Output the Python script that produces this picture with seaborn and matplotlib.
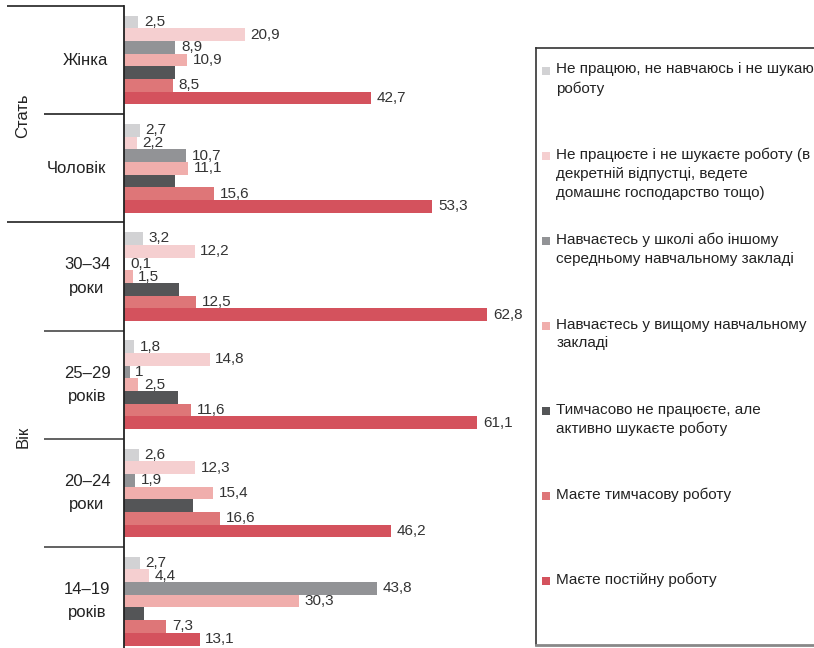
import matplotlib
matplotlib.use("Agg")
import matplotlib.pyplot as plt
import pandas as pd
import seaborn as sns
from matplotlib.patches import Rectangle
from matplotlib.transforms import blended_transform_factory

# Groups (top to bottom) and the employment status series
groups = ["Жінка", "Чоловік", "30–34\nроки", "25–29\nроків", "20–24\nроки", "14–19\nроків"]
series = [
    "Не працюю, не навчаюсь і не шукаю\nроботу",
    "Не працюєте і не шукаєте роботу (в\nдекретній відпустці, ведете\nдомашнє господарство тощо)",
    "Навчаєтесь у школі або іншому\nсередньому навчальному закладі",
    "Навчаєтесь у вищому навчальному\nзакладі",
    "Тимчасово не працюєте, але\nактивно шукаєте роботу",
    "Маєте тимчасову роботу",
    "Маєте постійну роботу",
]
not_working = [2.5, 2.7, 3.2, 1.8, 2.6, 2.7]
homemaker = [20.9, 2.2, 12.2, 14.8, 12.3, 4.4]
school = [8.9, 10.7, 0.1, 1.0, 1.9, 43.8]
university = [10.9, 11.1, 1.5, 2.5, 15.4, 30.3]
job_seeking = [8.8, 8.8, 9.5, 9.3, 11.9, 3.5]
temporary_job = [8.5, 15.6, 12.5, 11.6, 16.6, 7.3]
permanent_job = [42.7, 53.3, 62.8, 61.1, 46.2, 13.1]
colors = ["#d2d2d4", "#f5cfd0", "#929396", "#f0aeac", "#545557", "#de7678", "#d4525d"]
labelled = [True, True, True, True, False, True, True]

values = [not_working, homemaker, school, university, job_seeking, temporary_job, permanent_job]
rows = []
for s, vals in zip(series, values):
    for g, v in zip(groups, vals):
        rows.append({"group": g, "status": s, "value": v})
df = pd.DataFrame(rows)

sns.set_style("white")
plt.rcParams["font.family"] = ["Liberation Sans", "DejaVu Sans"]

W, H = 814, 648
fig = plt.figure(figsize=(W / 100, H / 100), dpi=100)
ax_left, ax_right = 124, 530
ax = fig.add_axes([ax_left / W, 0, (ax_right - ax_left) / W, 642 / H])

sns.barplot(data=df, y="group", x="value", hue="status", order=groups,
            hue_order=series, palette=dict(zip(series, colors)), orient="h",
            width=0.82, gap=0, saturation=1, legend=False, linewidth=0, ax=ax)

ax.set_xlim(0, (ax_right - ax_left) / 5.785)
ax.set_ylim(5.433, -0.5)
ax.set_xlabel("")
ax.set_ylabel("")
ax.set_xticks([])
ax.set_yticks([])
for side in ["top", "right", "bottom"]:
    ax.spines[side].set_visible(False)
ax.spines["left"].set_color("#222222")
ax.spines["left"].set_linewidth(1.3)

# value labels (the job-seeking series is shown without numbers)
for cont, show in zip(ax.containers, labelled):
    if not show:
        continue
    labs = [f"{r.get_width():g}".replace(".", ",") for r in cont]
    ax.bar_label(cont, labels=labs, padding=4, fontsize=11, color="#333333")

# row labels and separators on the left
axw = ax_right - ax_left
trans = blended_transform_factory(ax.transAxes, ax.transData)
label_x = [85, 76, 87, 87, 87, 87]
for i, (g, lx) in enumerate(zip(groups, label_x)):
    ax.text((lx - ax_left) / axw, i, g, transform=trans, ha="center", va="center",
            fontsize=12, color="#222222", linespacing=1.7)

def hline(y, x0_px, color="#333333"):
    ax.plot([(x0_px - ax_left) / axw, 0], [y, y], transform=trans, color=color,
            lw=1.3, clip_on=False, solid_capstyle="butt")

hline(-0.5, 7)
hline(0.5, 44)
hline(1.5, 7)
for y in [2.5, 3.5, 4.5]:
    hline(y, 44, "#555555")

fig.text(23 / W, 1 - 116 / H, "Стать", rotation=90, ha="center", va="center",
         fontsize=12, color="#222222")
fig.text(23 / W, 1 - 437 / H, "Вік", rotation=90, ha="center", va="center",
         fontsize=12, color="#222222")

# legend panel
lx0, ly0, lx1, ly1 = 535.7, 47.7, 830, 645
lax = fig.add_axes([lx0 / W, 1 - ly1 / H, (lx1 - lx0) / W, (ly1 - ly0) / H])
lw_px, lh_px = lx1 - lx0, ly1 - ly0
lax.set_xlim(0, lw_px)
lax.set_ylim(lh_px, 0)
lax.set_xticks([])
lax.set_yticks([])
lax.patch.set_alpha(0)
for side in ["left", "top"]:
    lax.spines[side].set_color("#333333")
    lax.spines[side].set_linewidth(1.2)
lax.spines["right"].set_visible(False)
lax.spines["bottom"].set_color("#888888")
lax.spines["bottom"].set_linewidth(2)

for k, (s, c) in enumerate(zip(series, colors)):
    yc = 71 - ly0 + 85 * k
    lax.add_patch(Rectangle((6.5, yc - 4), 8, 8, color=c, lw=0))
    lax.text(20.5, yc - 8.5, s, ha="left", va="top", fontsize=11, color="#222222",
             linespacing=1.45, clip_on=False)

fig.savefig("out.png", dpi=100)
